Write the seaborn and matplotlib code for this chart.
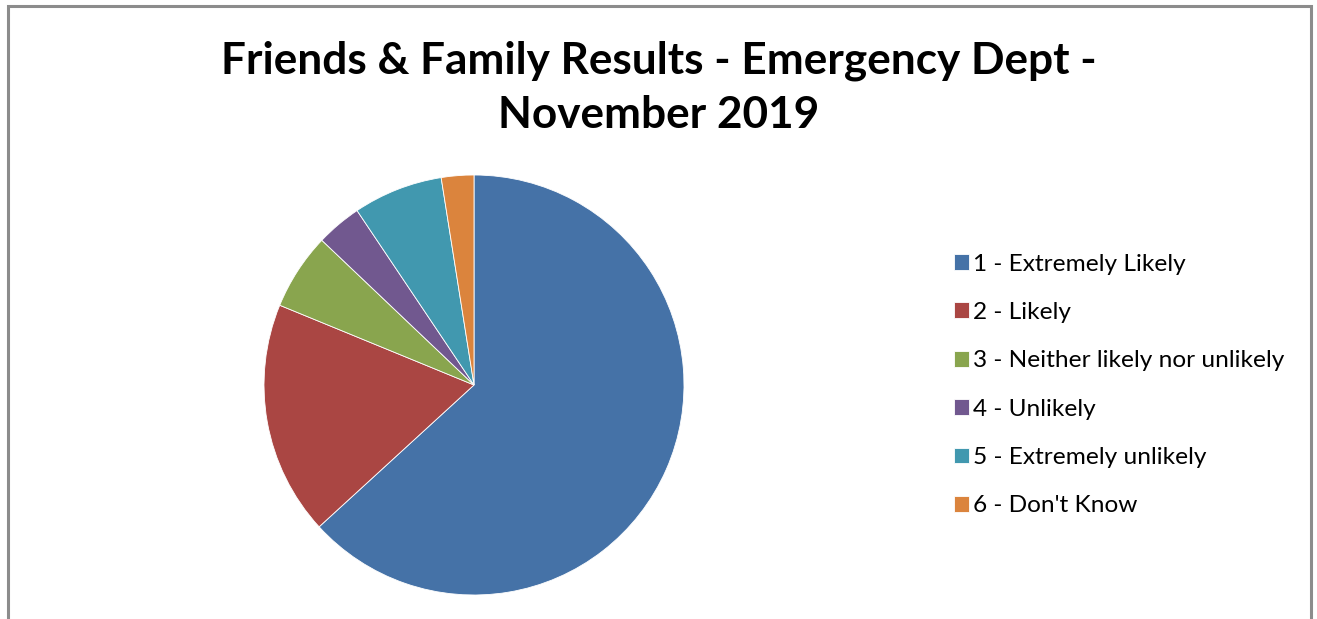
import matplotlib
matplotlib.use("Agg")
import matplotlib.pyplot as plt
import seaborn as sns
from matplotlib.patches import Rectangle

# data (percent of responses)
categories = [
    "1 - Extremely Likely",
    "2 - Likely",
    "3 - Neither likely nor unlikely",
    "4 - Unlikely",
    "5 - Extremely unlikely",
    "6 - Don't Know",
]
shares = [63.2, 18.0, 5.9, 3.5, 6.9, 2.5]
colours = ["#4572A7", "#AA4643", "#89A54E", "#71588F", "#4198AF", "#DB843D"]

title = "Friends & Family Results - Emergency Dept -\nNovember 2019"

sns.set_theme(style="white")
plt.rcParams["font.family"] = ["Lato", "DejaVu Sans"]

W, H = 1317, 619
fig = plt.figure(figsize=(W / 100, H / 100), dpi=100)
fig.patch.set_facecolor("white")

# pie: centre (474, 385) px, radius 210 px
cx, cy, r = 474, 385, 210
ax = fig.add_axes([(cx - r) / W, (H - cy - r) / H, 2 * r / W, 2 * r / H])
wedges, _ = ax.pie(
    shares,
    colors=sns.color_palette(colours),
    startangle=90,
    counterclock=False,
    radius=1,
    wedgeprops=dict(linewidth=0.6, edgecolor="white"),
)
ax.set_xlim(-1, 1)
ax.set_ylim(-1, 1)
ax.set_aspect("equal")
ax.axis("off")

fig.text(0.5, 1 - 88 / H, title, ha="center", va="center",
         fontsize=31.8, fontweight="bold", linespacing=1.42, color="black")

leg = fig.legend(
    wedges, categories,
    loc="center left",
    bbox_to_anchor=(932 / W, 1 - 385 / H),
    frameon=False,
    fontsize=17.6,
    labelcolor="black",
    handlelength=0.62,
    handleheight=0.62,
    handletextpad=0.15,
    labelspacing=1.12,
)

# chart border
fig.patches.append(Rectangle((8 / W, -0.05), 1303 / W, 1.05 - 6 / H,
                             transform=fig.transFigure, fill=False,
                             edgecolor="#8c8c8c", linewidth=2.2))

fig.savefig("out.png", dpi=100)
plt.close(fig)
